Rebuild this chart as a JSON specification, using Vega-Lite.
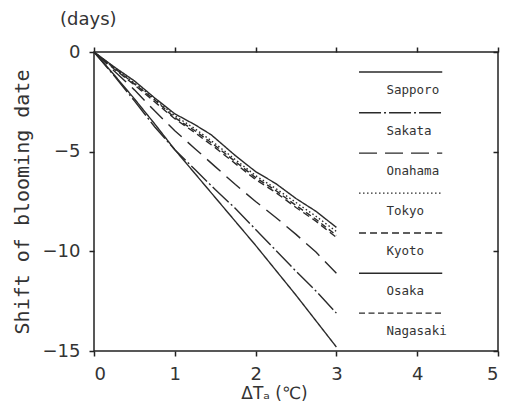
{
  "$schema": "https://vega.github.io/schema/vega-lite/v6.json",
  "width": 404,
  "height": 299,
  "autosize": "none",
  "padding": {"left": 94, "top": 52, "right": 14, "bottom": 64},
  "background": "white",
  "title": {"text": "(days)", "anchor": "start", "frame": "group", "dx": -34, "offset": 14, "fontSize": 18, "font": "DejaVu Sans", "fontWeight": "normal", "color": "#333"},
  "config": {
    "view": {"stroke": "#222", "strokeWidth": 1.5},
    "axis": {"grid": false, "domain": false, "tickColor": "#222", "tickWidth": 1.5, "tickSize": 5, "labelFont": "DejaVu Sans", "labelFontSize": 18, "labelColor": "#333", "titleColor": "#333", "titleFontWeight": "normal"}
  },
  "datasets": {
    "lines": [
      {"station": "Sapporo", "dT": 0, "shift": 0}, {"station": "Sapporo", "dT": 0.25, "shift": -0.75}, {"station": "Sapporo", "dT": 0.5, "shift": -1.45}, {"station": "Sapporo", "dT": 0.75, "shift": -2.3}, {"station": "Sapporo", "dT": 1, "shift": -3.1}, {"station": "Sapporo", "dT": 1.25, "shift": -3.65}, {"station": "Sapporo", "dT": 1.45, "shift": -4.15}, {"station": "Sapporo", "dT": 1.75, "shift": -5.2}, {"station": "Sapporo", "dT": 2, "shift": -6.0}, {"station": "Sapporo", "dT": 2.25, "shift": -6.6}, {"station": "Sapporo", "dT": 2.5, "shift": -7.35}, {"station": "Sapporo", "dT": 2.75, "shift": -8.0}, {"station": "Sapporo", "dT": 3, "shift": -8.8},
      {"station": "Sakata", "dT": 0, "shift": 0}, {"station": "Sakata", "dT": 0.25, "shift": -1.2}, {"station": "Sakata", "dT": 0.5, "shift": -2.45}, {"station": "Sakata", "dT": 0.75, "shift": -3.75}, {"station": "Sakata", "dT": 1, "shift": -4.9}, {"station": "Sakata", "dT": 1.25, "shift": -5.9}, {"station": "Sakata", "dT": 1.5, "shift": -6.9}, {"station": "Sakata", "dT": 1.75, "shift": -7.85}, {"station": "Sakata", "dT": 2, "shift": -8.9}, {"station": "Sakata", "dT": 2.25, "shift": -9.95}, {"station": "Sakata", "dT": 2.5, "shift": -11.0}, {"station": "Sakata", "dT": 2.75, "shift": -12.0}, {"station": "Sakata", "dT": 3, "shift": -13.1},
      {"station": "Onahama", "dT": 0, "shift": 0}, {"station": "Onahama", "dT": 0.25, "shift": -0.95}, {"station": "Onahama", "dT": 0.5, "shift": -1.9}, {"station": "Onahama", "dT": 0.75, "shift": -2.95}, {"station": "Onahama", "dT": 1, "shift": -3.95}, {"station": "Onahama", "dT": 1.25, "shift": -4.85}, {"station": "Onahama", "dT": 1.5, "shift": -5.75}, {"station": "Onahama", "dT": 1.75, "shift": -6.65}, {"station": "Onahama", "dT": 2, "shift": -7.5}, {"station": "Onahama", "dT": 2.25, "shift": -8.3}, {"station": "Onahama", "dT": 2.5, "shift": -9.15}, {"station": "Onahama", "dT": 2.75, "shift": -10.05}, {"station": "Onahama", "dT": 3, "shift": -11.1},
      {"station": "Tokyo", "dT": 0, "shift": 0}, {"station": "Tokyo", "dT": 0.25, "shift": -0.8}, {"station": "Tokyo", "dT": 0.5, "shift": -1.55}, {"station": "Tokyo", "dT": 0.75, "shift": -2.35}, {"station": "Tokyo", "dT": 1, "shift": -3.2}, {"station": "Tokyo", "dT": 1.25, "shift": -3.85}, {"station": "Tokyo", "dT": 1.5, "shift": -4.6}, {"station": "Tokyo", "dT": 1.75, "shift": -5.4}, {"station": "Tokyo", "dT": 2, "shift": -6.2}, {"station": "Tokyo", "dT": 2.25, "shift": -6.85}, {"station": "Tokyo", "dT": 2.5, "shift": -7.55}, {"station": "Tokyo", "dT": 2.75, "shift": -8.25}, {"station": "Tokyo", "dT": 3, "shift": -9.0},
      {"station": "Kyoto", "dT": 0, "shift": 0}, {"station": "Kyoto", "dT": 0.25, "shift": -0.85}, {"station": "Kyoto", "dT": 0.5, "shift": -1.65}, {"station": "Kyoto", "dT": 0.75, "shift": -2.5}, {"station": "Kyoto", "dT": 1, "shift": -3.35}, {"station": "Kyoto", "dT": 1.25, "shift": -4.05}, {"station": "Kyoto", "dT": 1.5, "shift": -4.8}, {"station": "Kyoto", "dT": 1.75, "shift": -5.6}, {"station": "Kyoto", "dT": 2, "shift": -6.4}, {"station": "Kyoto", "dT": 2.25, "shift": -7.05}, {"station": "Kyoto", "dT": 2.5, "shift": -7.8}, {"station": "Kyoto", "dT": 2.75, "shift": -8.5}, {"station": "Kyoto", "dT": 3, "shift": -9.3},
      {"station": "Osaka", "dT": 0, "shift": 0}, {"station": "Osaka", "dT": 0.25, "shift": -1.15}, {"station": "Osaka", "dT": 0.5, "shift": -2.35}, {"station": "Osaka", "dT": 0.75, "shift": -3.6}, {"station": "Osaka", "dT": 1, "shift": -4.9}, {"station": "Osaka", "dT": 1.25, "shift": -6.1}, {"station": "Osaka", "dT": 1.5, "shift": -7.3}, {"station": "Osaka", "dT": 1.75, "shift": -8.5}, {"station": "Osaka", "dT": 2, "shift": -9.7}, {"station": "Osaka", "dT": 2.25, "shift": -10.95}, {"station": "Osaka", "dT": 2.5, "shift": -12.2}, {"station": "Osaka", "dT": 2.75, "shift": -13.5}, {"station": "Osaka", "dT": 3, "shift": -14.8},
      {"station": "Nagasaki", "dT": 0, "shift": 0}, {"station": "Nagasaki", "dT": 0.25, "shift": -0.8}, {"station": "Nagasaki", "dT": 0.5, "shift": -1.6}, {"station": "Nagasaki", "dT": 0.75, "shift": -2.4}, {"station": "Nagasaki", "dT": 1, "shift": -3.3}, {"station": "Nagasaki", "dT": 1.25, "shift": -3.95}, {"station": "Nagasaki", "dT": 1.5, "shift": -4.7}, {"station": "Nagasaki", "dT": 1.75, "shift": -5.5}, {"station": "Nagasaki", "dT": 2, "shift": -6.3}, {"station": "Nagasaki", "dT": 2.25, "shift": -6.95}, {"station": "Nagasaki", "dT": 2.5, "shift": -7.7}, {"station": "Nagasaki", "dT": 2.75, "shift": -8.4}, {"station": "Nagasaki", "dT": 3, "shift": -9.2}
    ],
    "legend": [
      {"station": "Sapporo", "x1": 3.28, "x2": 4.31, "lineY": -1.0, "labelX": 3.62, "labelY": -1.9},
      {"station": "Sakata", "x1": 3.28, "x2": 4.31, "lineY": -3.05, "labelX": 3.62, "labelY": -3.95},
      {"station": "Onahama", "x1": 3.28, "x2": 4.31, "lineY": -5.07, "labelX": 3.62, "labelY": -5.97},
      {"station": "Tokyo", "x1": 3.28, "x2": 4.31, "lineY": -7.08, "labelX": 3.62, "labelY": -7.98},
      {"station": "Kyoto", "x1": 3.28, "x2": 4.31, "lineY": -9.08, "labelX": 3.62, "labelY": -9.98},
      {"station": "Osaka", "x1": 3.28, "x2": 4.31, "lineY": -11.1, "labelX": 3.62, "labelY": -12.0},
      {"station": "Nagasaki", "x1": 3.28, "x2": 4.31, "lineY": -13.1, "labelX": 3.62, "labelY": -14.0}
    ]
  },
  "resolve": {"axis": {"x": "independent", "y": "independent"}},
  "layer": [
    {
      "data": {"name": "lines"},
      "mark": {"type": "line", "color": "#2a2a2a", "strokeWidth": 1.4},
      "encoding": {
        "x": {"field": "dT", "type": "quantitative", "scale": {"domain": [0, 5], "nice": false}, "axis": {"orient": "bottom", "values": [0, 1, 2, 3, 4, 5], "ticks": true, "tickSize": 5, "labelPadding": 9, "title": "ΔTₐ (℃)", "titleFont": "DejaVu Sans", "titleFontSize": 17, "titlePadding": 2, "titleX": 180}},
        "y": {"field": "shift", "type": "quantitative", "scale": {"domain": [-15, 0], "nice": false}, "axis": {"orient": "left", "values": [0, -5, -10, -15], "ticks": true, "tickSize": 5, "labelPadding": 9, "title": "Shift of blooming date", "titleFont": "DejaVu Sans Mono", "titleFontSize": 20, "titlePadding": 10}},
        "detail": {"field": "station"},
        "strokeDash": {"field": "station", "type": "nominal", "legend": null, "scale": {"domain": ["Sapporo", "Sakata", "Onahama", "Tokyo", "Kyoto", "Osaka", "Nagasaki"], "range": [[1, 0], [22, 3, 2, 3], [18, 8], [1.5, 2.5], [7, 4], [1, 0], [6, 3.5]]}},
        "strokeWidth": {"field": "station", "type": "nominal", "legend": null, "scale": {"domain": ["Sapporo", "Sakata", "Onahama", "Tokyo", "Kyoto", "Osaka", "Nagasaki"], "range": [1.4, 1.3, 1.4, 1.4, 1.4, 1.7, 1.4]}}
      }
    },
    {
      "data": {"name": "legend"},
      "mark": {"type": "rule", "color": "#2a2a2a"},
      "encoding": {
        "x": {"field": "x1", "type": "quantitative", "axis": {"orient": "top", "tickCount": 5, "ticks": true, "tickSize": 5, "labels": false, "title": null}},
        "x2": {"field": "x2"},
        "y": {"field": "lineY", "type": "quantitative", "axis": {"orient": "right", "tickCount": 3, "ticks": true, "tickSize": -5, "labels": false, "title": null}},
        "strokeDash": {"field": "station", "type": "nominal", "legend": null},
        "strokeWidth": {"field": "station", "type": "nominal", "legend": null}
      }
    },
    {
      "data": {"name": "legend"},
      "mark": {"type": "text", "align": "left", "baseline": "middle", "font": "DejaVu Sans Mono", "fontSize": 12.5, "color": "#333"},
      "encoding": {
        "x": {"field": "labelX", "type": "quantitative", "axis": null},
        "y": {"field": "labelY", "type": "quantitative", "axis": null},
        "text": {"field": "station"}
      }
    }
  ]
}
